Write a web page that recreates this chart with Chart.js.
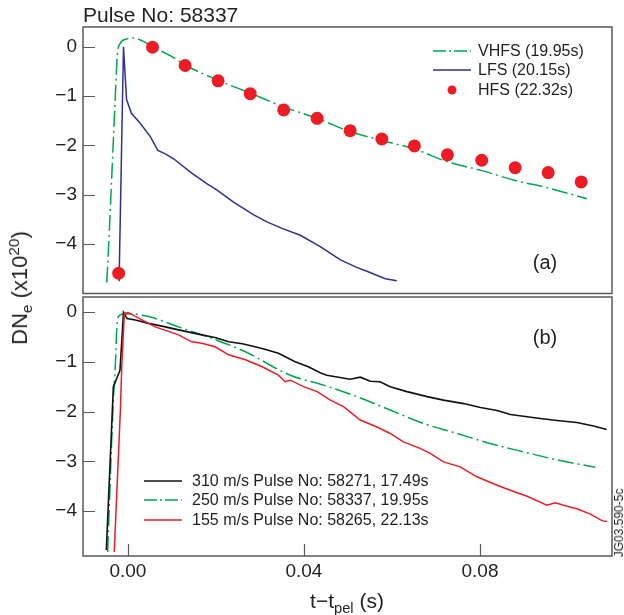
<!DOCTYPE html>
<html>
<head>
<meta charset="utf-8">
<script src="https://cdn.jsdelivr.net/npm/chart.js@4.4.0/dist/chart.umd.min.js"></script>
<style>
body{margin:0;background:#fff;font-family:"Liberation Sans",Arial,sans-serif;color:#231f20}
#wrap{position:relative;width:624px;height:615px;overflow:hidden}
canvas{position:absolute;left:0}
.txt{position:absolute;white-space:nowrap;line-height:1}
.legRow{position:absolute;display:flex;align-items:center;height:20px;font-size:16px;white-space:nowrap}
sub,sup{font-size:70%;line-height:0}
</style>
</head>
<body>
<div id="wrap">
<canvas id="chartA" width="624" height="300" style="top:0"></canvas>
<canvas id="chartB" width="624" height="319" style="top:296px"></canvas>
<div class="txt" style="left:83px;top:4px;font-size:21px">Pulse No: 58337</div>
<div class="txt" style="left:20px;top:288px;font-size:22px;transform:translate(-50%,-50%) rotate(-90deg)">DN<sub>e</sub> (x10<sup>20</sup>)</div>
<div class="txt" style="left:347px;top:600px;font-size:21px;transform:translate(-50%,-50%)">t−t<sub>pel</sub> (s)</div>
<div class="txt" style="left:545px;top:262px;font-size:20px;transform:translate(-50%,-50%)">(a)</div>
<div class="txt" style="left:545px;top:337px;font-size:20px;transform:translate(-50%,-50%)">(b)</div>
<div class="txt" style="left:619px;top:523px;font-size:12px;transform:translate(-50%,-50%) rotate(-90deg)">JG03.590-5c</div>
</div>
<script>
// axis ticks
const xTicks = [0, 0.04, 0.08]
const yTicks = [-4, -3, -2, -1, 0]

// panel (a), pulse 58337
const vhfsT = [-0.0048, -0.0042, -0.0036, -0.0030, -0.0026, -0.0024, -0.00175, -0.0002, 0.0013, 0.0035, 0.0058, 0.0100, 0.0130, 0.0205, 0.0278, 0.0354, 0.0430, 0.0505, 0.0577, 0.0651, 0.0726, 0.0804, 0.0880, 0.0955, 0.1043]
const vhfsV = [-4.78, -3.7, -2.5, -1.3, -0.5, -0.16, 0.07, 0.16, 0.175, 0.11, -0.01, -0.2, -0.37, -0.68, -0.94, -1.22, -1.45, -1.72, -1.9, -2.07, -2.33, -2.51, -2.71, -2.86, -3.08]

const lfsT = [-0.0020, -0.0010, -0.0003, 0.0008, 0.0028, 0.0051, 0.0068, 0.0085, 0.0104, 0.0142, 0.0180, 0.0202, 0.0240, 0.0285, 0.0316, 0.0350, 0.0392, 0.0437, 0.0483, 0.0520, 0.0543, 0.0585, 0.0611]
const lfsV = [-4.75, 0.0, -1.07, -1.35, -1.55, -1.82, -2.10, -2.17, -2.27, -2.54, -2.78, -2.90, -3.15, -3.40, -3.55, -3.68, -3.82, -4.05, -4.32, -4.47, -4.55, -4.70, -4.74]

const hfsT = [-0.0021, 0.0056, 0.0130, 0.0205, 0.0278, 0.0354, 0.0430, 0.0505, 0.0577, 0.0651, 0.0726, 0.0804, 0.0880, 0.0955, 0.1030]
const hfsV = [-4.59, -0.01, -0.38, -0.69, -0.95, -1.28, -1.45, -1.70, -1.87, -2.01, -2.19, -2.30, -2.45, -2.55, -2.74]

// panel (b), pellet speeds
const t310 = [-0.0049, -0.0033, -0.0027, -0.0018, -0.0014, -0.0010, -0.0002, 0.0017, 0.0047, 0.0080, 0.0115, 0.0168, 0.0200, 0.0229, 0.0260, 0.0289, 0.0315, 0.0342, 0.0380, 0.0410, 0.0437, 0.0452, 0.0505, 0.0528, 0.0551, 0.0573, 0.0596, 0.0634, 0.0680, 0.0717, 0.0763, 0.0801, 0.0839, 0.0869, 0.0937, 0.0975, 0.1020, 0.1058, 0.1088]
const v310 = [-4.78, -1.50, -1.37, -1.17, -0.60, -0.01, -0.13, -0.16, -0.23, -0.29, -0.36, -0.46, -0.52, -0.60, -0.64, -0.70, -0.76, -0.83, -1.00, -1.10, -1.22, -1.27, -1.35, -1.31, -1.39, -1.40, -1.50, -1.60, -1.70, -1.77, -1.84, -1.92, -1.98, -2.06, -2.14, -2.18, -2.22, -2.29, -2.36]

const t250 = [-0.0046, -0.0033, -0.0029, -0.0025, -0.0021, -0.0010, 0.0009, 0.0047, 0.0115, 0.0191, 0.0267, 0.0369, 0.0445, 0.0520, 0.0596, 0.0672, 0.0748, 0.0823, 0.0899, 0.0975, 0.1062]
const v250 = [-4.82, -1.77, -1.17, -0.30, -0.09, -0.04, -0.04, -0.09, -0.30, -0.53, -0.80, -1.27, -1.47, -1.70, -1.97, -2.24, -2.44, -2.64, -2.81, -2.97, -3.12]

const t155 = [-0.0031, -0.0017, -0.0014, -0.0008, 0.0001, 0.0017, 0.0062, 0.0115, 0.0145, 0.0168, 0.0198, 0.0229, 0.0267, 0.0305, 0.0342, 0.0357, 0.0369, 0.0399, 0.0430, 0.0460, 0.0490, 0.0528, 0.0566, 0.0596, 0.0626, 0.0664, 0.0687, 0.0717, 0.0755, 0.0793, 0.0839, 0.0869, 0.0907, 0.0952, 0.0971, 0.0998, 0.1020, 0.1051, 0.1077, 0.1089]
const v155 = [-4.82, -1.97, -1.10, -0.03, -0.01, -0.09, -0.30, -0.46, -0.60, -0.63, -0.70, -0.86, -0.96, -1.10, -1.27, -1.40, -1.37, -1.50, -1.60, -1.77, -1.90, -2.17, -2.31, -2.44, -2.61, -2.74, -2.84, -3.01, -3.11, -3.31, -3.48, -3.58, -3.70, -3.88, -3.83, -3.90, -3.95, -4.06, -4.19, -4.21]

const green = '#00a651'
const blue = '#2e3192'
const red = '#ed1c24'
const black = '#111111'
const textColor = '#231f20'
const frameColor = '#58595b'
const font = '"Liberation Sans", Arial, sans-serif'
const dashDot = [16, 4, 2, 4]

function pts(xs, ys){
    return xs.map((x, i) => ({x: x, y: ys[i]}))
}

function minus(v){
    return String(v).replace('-', '\u2212')
}

// box round the plot plus tick marks pointing inwards
const framePlugin = {
    id: 'frame',
    afterDraw(chart){
        const ctx = chart.ctx
        const a = chart.chartArea
        ctx.save()
        ctx.strokeStyle = frameColor
        ctx.lineWidth = 1.5
        ctx.strokeRect(a.left, a.top, a.right - a.left, a.bottom - a.top)
        ctx.lineWidth = 1.2
        ctx.beginPath()
        const ys = chart.scales.y
        ys.ticks.forEach(t => {
            const p = Math.round(ys.getPixelForValue(t.value)) + 0.5
            ctx.moveTo(a.left, p)
            ctx.lineTo(a.left + 12, p)
        })
        const xs = chart.scales.x
        if(xs.options.display){
            xs.ticks.forEach(t => {
                const p = Math.round(xs.getPixelForValue(t.value)) + 0.5
                ctx.moveTo(p, a.bottom)
                ctx.lineTo(p, a.bottom - 12)
            })
        }
        ctx.stroke()
        ctx.restore()
    }
}

function yAxis(min, max){
    return {
        type: 'linear', min: min, max: max,
        afterBuildTicks: s => { s.ticks = yTicks.map(v => ({value: v})) },
        afterFit: s => { s.width = 83; s.paddingTop = 0; s.paddingBottom = 0 },
        grid: {display: false, drawTicks: false}, border: {display: false},
        ticks: {font: {family: font, size: 19}, color: textColor, padding: 6, callback: v => minus(v)}
    }
}

function xAxis(show){
    return {
        type: 'linear', min: -0.0102, max: 0.11, display: show,
        afterBuildTicks: s => { s.ticks = xTicks.map(v => ({value: v})) },
        afterFit: s => {
            if(show){ s.height = 59 }else{ s.height = 0 }
            s.paddingLeft = 0; s.paddingRight = 0
        },
        grid: {display: false, drawTicks: false}, border: {display: false},
        ticks: {font: {family: font, size: 19}, color: textColor, padding: 4, maxRotation: 0, autoSkip: false, callback: v => v.toFixed(2)}
    }
}

function baseOptions(pad, yMin, yMax, showX){
    return {
        responsive: false, animation: false, devicePixelRatio: 1,
        layout: {padding: pad},
        plugins: {legend: {display: false}, tooltip: {enabled: false}},
        scales: {x: xAxis(showX), y: yAxis(yMin, yMax)}
    }
}

const topSets = [
    {label: 'VHFS (19.95s)', data: pts(vhfsT, vhfsV), borderColor: green, borderWidth: 1.5, borderDash: dashDot, pointRadius: 0, cubicInterpolationMode: 'monotone', order: 2},
    {label: 'LFS (20.15s)', data: pts(lfsT, lfsV), borderColor: blue, borderWidth: 1.5, pointRadius: 0, order: 1},
    {label: 'HFS (22.32s)', data: pts(hfsT, hfsV), showLine: false, borderColor: red, backgroundColor: red, pointBackgroundColor: red, pointBorderWidth: 0, pointRadius: 6.5, order: 0}
]

const bottomSets = [
    {label: '310 m/s Pulse No: 58271, 17.49s', data: pts(t310, v310), borderColor: black, borderWidth: 1.6, pointRadius: 0, order: 1},
    {label: '250 m/s Pulse No: 58337, 19.95s', data: pts(t250, v250), borderColor: green, borderWidth: 1.5, borderDash: dashDot, pointRadius: 0, cubicInterpolationMode: 'monotone', order: 2},
    {label: '155 m/s Pulse No: 58265, 22.13s', data: pts(t155, v155), borderColor: red, borderWidth: 1.5, pointRadius: 0, order: 0}
]

new Chart(document.getElementById('chartA'), {
    type: 'line',
    data: {datasets: topSets},
    options: baseOptions({left: 0, right: 12, top: 27, bottom: 4}, -5.0, 0.4, false),
    plugins: [framePlugin]
})

new Chart(document.getElementById('chartB'), {
    type: 'line',
    data: {datasets: bottomSets},
    options: baseOptions({left: 0, right: 12, top: 1, bottom: 0}, -4.9, 0.3, true),
    plugins: [framePlugin]
})

// html legends, sample drawn from each dataset's own style
function legend(sets, left, top, gap){
    const wrap = document.getElementById('wrap')
    sets.forEach((ds, i) => {
        const row = document.createElement('div')
        row.className = 'legRow'
        row.style.left = left + 'px'
        row.style.top = (top + i * 19.3) + 'px'
        let sample
        if(ds.showLine === false){
            sample = `<circle cx="19" cy="10" r="4.5" fill="${ds.pointBackgroundColor}"/>`
        }else{
            const dash = ds.borderDash ? '13 3 2 3' : 'none'
            sample = `<line x1="0" y1="10" x2="38" y2="10" stroke="${ds.borderColor}" stroke-width="${ds.borderWidth}" stroke-dasharray="${dash}"/>`
        }
        row.innerHTML = `<svg width="38" height="20" style="margin-right:${gap}px">${sample}</svg><span>${ds.label}</span>`
        wrap.appendChild(row)
    })
}
legend(topSets, 433, 41, 7)
legend(bottomSets, 144, 471, 10)
</script>
</body>
</html>
